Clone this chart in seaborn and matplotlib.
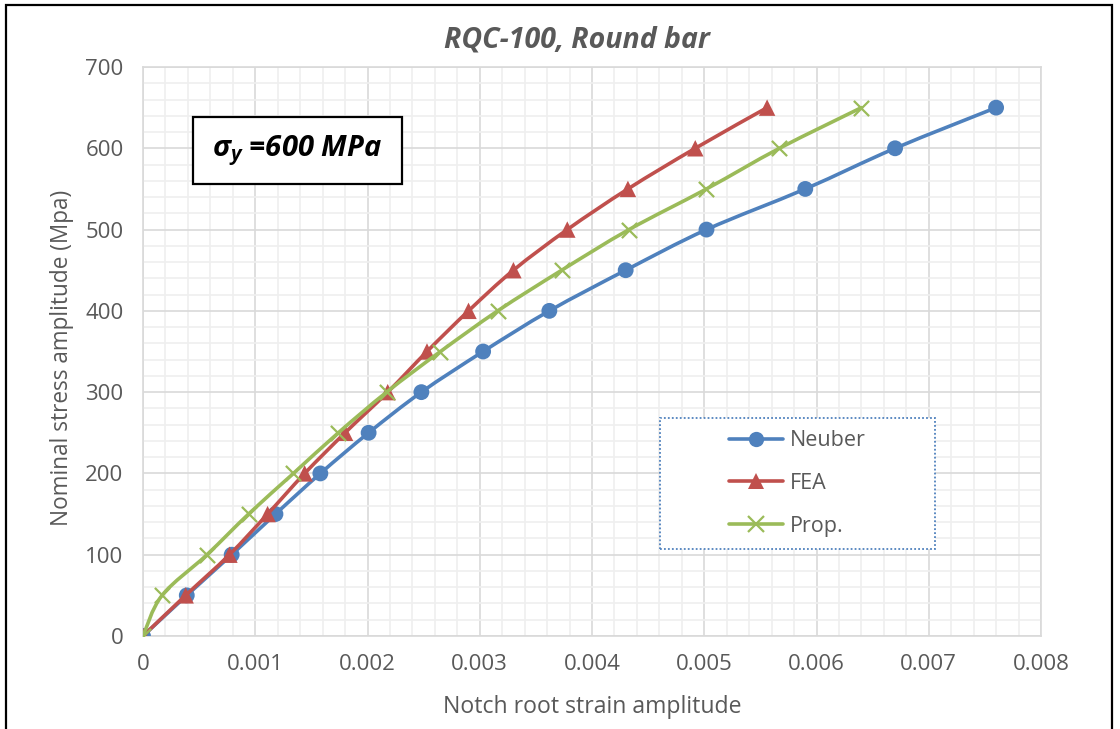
import numpy as np
import pandas as pd
import matplotlib
matplotlib.use("Agg")
import matplotlib.pyplot as plt
import seaborn as sns
from matplotlib.path import Path
from matplotlib.patches import PathPatch, Rectangle
from matplotlib.lines import Line2D
from matplotlib.ticker import MultipleLocator, FuncFormatter

# Nominal stress amplitude levels (MPa)
stress = [0, 50, 100, 150, 200, 250, 300, 350, 400, 450, 500, 550, 600, 650]

# Notch root strain amplitude for each method
neuber_strain = [0, 0.00039, 0.00079, 0.00118, 0.00158, 0.00201, 0.00248,
                 0.00303, 0.00362, 0.00430, 0.00502, 0.00590, 0.00670, 0.00760]
fea_strain = [0, 0.00038, 0.00077, 0.00111, 0.00144, 0.00180, 0.00218,
              0.00253, 0.00290, 0.00330, 0.00378, 0.00432, 0.00492, 0.00556]
prop_strain = [0, 0.00017, 0.00057, 0.00094, 0.00134, 0.00174, 0.00217,
               0.00265, 0.00316, 0.00373, 0.00433, 0.00502, 0.00567, 0.00640]

series_names = ["Neuber", "FEA", "Prop."]
title_text = "RQC-100, Round bar"
xlabel_text = "Notch root strain amplitude"
ylabel_text = "Nominal stress amplitude (Mpa)"
note_text = r"$\sigma_y$ =600 MPa"

colors = {"Neuber": "#4F81BD", "FEA": "#C0504D", "Prop.": "#9BBB59"}
markers = {"Neuber": "o", "FEA": "^", "Prop.": "x"}
msizes = {"Neuber": 130, "FEA": 140, "Prop.": 120}

sns.set_theme(style="white")
plt.rcParams["font.family"] = ["Open Sans", "DejaVu Sans"]
plt.rcParams["mathtext.fontset"] = "custom"
plt.rcParams["mathtext.it"] = "Open Sans:italic:bold"
plt.rcParams["mathtext.rm"] = "Open Sans:bold"

TXT = "#595959"

frames = []
for name, xs in zip(series_names, [neuber_strain, fea_strain, prop_strain]):
    frames.append(pd.DataFrame({"strain": xs, "stress": stress, "method": name}))
df = pd.concat(frames, ignore_index=True)

fig = plt.figure(figsize=(11.2, 7.29), dpi=100)
ax = fig.add_axes([143 / 1120, 1 - 636 / 729, 898 / 1120, 569 / 729])


def smooth_path(xs, ys):
    """Cubic Bezier through the points (Excel-style smoothed line)."""
    p = np.column_stack([xs, ys]).astype(float)
    n = len(p)
    verts = [p[0]]
    codes = [Path.MOVETO]
    for i in range(n - 1):
        p0 = p[i - 1] if i > 0 else p[i]
        p1 = p[i]
        p2 = p[i + 1]
        p3 = p[i + 2] if i + 2 < n else p[i + 1]
        c1 = p1 + (p2 - p0) / 6.0
        c2 = p2 - (p3 - p1) / 6.0
        verts += [c1, c2, p2]
        codes += [Path.CURVE4] * 3
    return Path(verts, codes)


for k, name in enumerate(series_names):
    sub = df[df["method"] == name]
    patch = PathPatch(smooth_path(sub["strain"].values, sub["stress"].values),
                      facecolor="none", edgecolor=colors[name], lw=2.6,
                      capstyle="round", joinstyle="round", zorder=3 + 2 * k)
    ax.add_patch(patch)
    sns.scatterplot(data=sub, x="strain", y="stress", ax=ax, marker=markers[name],
                    s=msizes[name], color=colors[name],
                    linewidth=1.6 if name == "Prop." else 0,
                    edgecolor=colors[name] if name == "Prop." else "none",
                    zorder=4 + 2 * k, legend=False)

ax.set_xlim(0, 0.008)
ax.set_ylim(0, 700)
ax.xaxis.set_major_locator(MultipleLocator(0.001))
ax.xaxis.set_minor_locator(MultipleLocator(0.0002))
ax.yaxis.set_major_locator(MultipleLocator(100))
ax.yaxis.set_minor_locator(MultipleLocator(20))
ax.xaxis.set_major_formatter(FuncFormatter(lambda v, _: "0" if abs(v) < 1e-12 else f"{v:.3f}"))
ax.yaxis.set_major_formatter(FuncFormatter(lambda v, _: f"{v:.0f}"))
ax.grid(which="major", color="#D9D9D9", lw=1.2, zorder=0)
ax.grid(which="minor", color="#EFEFEF", lw=1.2, zorder=0)
ax.set_axisbelow(True)
for sp in ax.spines.values():
    sp.set_color("#D9D9D9")
    sp.set_linewidth(1.2)
ax.tick_params(axis="both", which="both", length=0, labelsize=16, labelcolor=TXT)
ax.tick_params(axis="x", pad=13)
ax.tick_params(axis="y", pad=14)
ax.set_xlabel("")
ax.set_ylabel("")

fig.text(577 / 1120, 1 - 40 / 729, title_text, ha="center", va="center",
         fontsize=20.5, fontweight="bold", fontstyle="italic", color=TXT)
fig.text(592 / 1120, 1 - 707 / 729, xlabel_text, ha="center", va="center",
         fontsize=16.6, color=TXT)
fig.text(62 / 1120, 1 - 358 / 729, ylabel_text, ha="center", va="center",
         rotation=90, fontsize=16.3, color=TXT)

# Yield strength note
ax.add_patch(Rectangle((0.0557, 0.7944), 0.2327, 0.1178, transform=ax.transAxes,
                       facecolor="white", edgecolor="black", lw=1.6, zorder=20))
ax.text(0.1715, 0.854, note_text, transform=ax.transAxes, ha="center", va="center",
        fontsize=21, fontweight="bold", fontstyle="italic", color="black", zorder=21)

# Legend inside a dotted frame
ax.add_patch(Rectangle((0.5757, 0.1529), 0.3062, 0.2302, transform=ax.transAxes,
                       facecolor="white", edgecolor="#4F81BD", lw=1.3,
                       linestyle=(0, (1, 1.2)), zorder=20))
handles = [Line2D([], [], color=colors[n], lw=2.6, marker=markers[n],
                  markersize=11,
                  markeredgewidth=1.6 if n == "Prop." else 0,
                  markeredgecolor=colors[n], solid_capstyle="round")
           for n in series_names]
leg = ax.legend(handles, series_names, loc="center", bbox_to_anchor=(0.7288, 0.268),
                frameon=False, fontsize=15.5, handlelength=2.5, handletextpad=0.35,
                labelspacing=1.0, borderpad=0)
leg.set_zorder(22)
for t in leg.get_texts():
    t.set_color(TXT)

# Outer chart border
fig.add_artist(Rectangle((6 / 1120, -0.05), 1106 / 1120, 1.05 - 5 / 729,
                         transform=fig.transFigure, facecolor="none",
                         edgecolor="black", lw=1.6, clip_on=False))

fig.savefig("out.png", dpi=100)
